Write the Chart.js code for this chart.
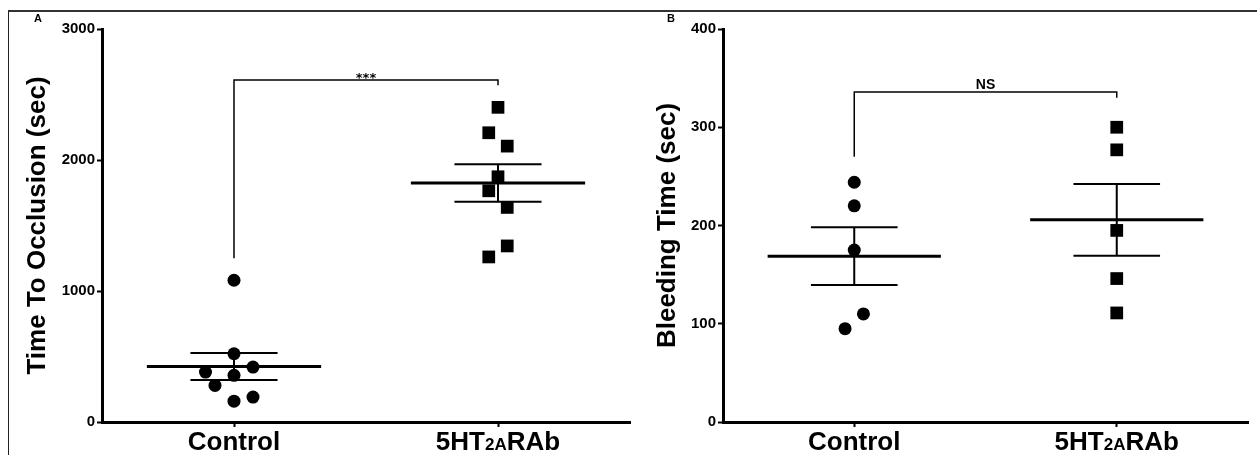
<!DOCTYPE html>
<html>
<head>
<meta charset="utf-8">
<script src="https://cdn.jsdelivr.net/npm/chart.js@4"></script>
<style>
  body { margin: 0; background: #fff; }
  #wrap { position: relative; width: 1257px; height: 455px; overflow: hidden; }
  .frame { position: absolute; left: 8px; top: 10px; width: 1270px; height: 470px;
           border-top: 2px solid #333; border-left: 1px solid #222; }
  .panel { position: absolute; top: 0; height: 455px; }
  .tag { position: absolute; font: bold 11px "Liberation Sans", Arial, sans-serif; color: #000; }
</style>
</head>
<body>
<div id="wrap">
  <div class="frame"></div>
  <div class="panel" style="left:0;width:640px"><canvas id="chartA"></canvas></div>
  <div class="panel" style="left:628px;width:629px"><canvas id="chartB"></canvas></div>
  <div class="tag" style="left:34px;top:12px">A</div>
  <div class="tag" style="left:667px;top:12px">B</div>
</div>
<script>
const categories = ["Control", "5HT2ARAb"];
const smallPart = "2A";

// === Panel A: time to occlusion (sec) ===
const occlusionControl = [1082, 521, 381, 356, 419, 279, 159, 190];
const occlusionControlX = [0, 0, -0.108, 0, 0.072, -0.072, 0, 0.072];
const occlusion5HT = [2402, 2208, 2106, 1872, 1765, 1638, 1344, 1260];
const occlusion5HTX = [0, -0.035, 0.035, 0, -0.035, 0.035, 0.035, -0.035];
const ticksA = [0, 1000, 2000, 3000];
const bracketA = [1250, 2610, 2570]; // left leg end, bar, right leg end

// === Panel B: bleeding time (sec) ===
const bleedControl = [244, 220, 175, 110, 95];
const bleedControlX = [0, 0, 0, 0.035, -0.035];
const bleed5HT = [300, 277, 195, 146, 111];
const bleed5HTX = [0, 0, 0, 0, 0];
const ticksB = [0, 100, 200, 300, 400];
const bracketB = [270, 336, 330];

function mean(a) {
  return a.reduce((s, v) => s + v, 0) / a.length;
}
function sem(a) {
  const m = mean(a);
  const sd = Math.sqrt(a.reduce((s, v) => s + (v - m) * (v - m), 0) / (a.length - 1));
  return sd / Math.sqrt(a.length);
}
function points(vals, xs, group) {
  return vals.map((v, i) => ({ x: group + xs[i], y: v }));
}

// mean line + SEM bars for each group
const errorBars = {
  id: "errorBars",
  afterDatasetsDraw(chart) {
    const ctx = chart.ctx;
    const xs = chart.scales.x, ys = chart.scales.y;
    ctx.save();
    ctx.strokeStyle = "#000";
    const seg = (x0, y0, x1, y1, w) => {
      ctx.lineWidth = w;
      ctx.beginPath();
      ctx.moveTo(xs.getPixelForValue(x0), ys.getPixelForValue(y0));
      ctx.lineTo(xs.getPixelForValue(x1), ys.getPixelForValue(y1));
      ctx.stroke();
    };
    chart.data.datasets.forEach((ds, i) => {
      const vals = ds.data.map(p => p.y);
      const g = i + 1, m = mean(vals), e = sem(vals);
      seg(g, m - e, g, m + e, 2);
      seg(g - 0.165, m + e, g + 0.165, m + e, 2);
      seg(g - 0.165, m - e, g + 0.165, m - e, 2);
      seg(g - 0.33, m, g + 0.33, m, 3);
    });
    ctx.restore();
  }
};

// significance bracket
const bracket = {
  id: "bracket",
  afterDraw(chart, args, opts) {
    const ctx = chart.ctx;
    const xs = chart.scales.x, ys = chart.scales.y;
    const [leftEnd, top, rightEnd] = opts.values;
    const x1 = xs.getPixelForValue(1), x2 = xs.getPixelForValue(2);
    const yt = ys.getPixelForValue(top);
    ctx.save();
    ctx.strokeStyle = "#000";
    ctx.lineWidth = 1.5;
    ctx.beginPath();
    ctx.moveTo(x1, ys.getPixelForValue(leftEnd));
    ctx.lineTo(x1, yt);
    ctx.lineTo(x2, yt);
    ctx.lineTo(x2, ys.getPixelForValue(rightEnd));
    ctx.stroke();
    ctx.fillStyle = "#000";
    ctx.font = opts.font;
    ctx.textAlign = "center";
    ctx.textBaseline = "alphabetic";
    ctx.fillText(opts.label, (x1 + x2) / 2, yt + opts.shift);
    ctx.restore();
  }
};

// group names under the x axis, with the small "2A"
const groupLabels = {
  id: "groupLabels",
  afterDraw(chart) {
    const ctx = chart.ctx;
    const xs = chart.scales.x;
    const big = 'bold 26px "Liberation Sans", Arial, sans-serif';
    const small = 'bold 17px "Liberation Sans", Arial, sans-serif';
    const base = xs.top + 28;
    ctx.save();
    ctx.fillStyle = "#000";
    ctx.textAlign = "left";
    ctx.textBaseline = "alphabetic";
    categories.forEach((label, i) => {
      const k = label.indexOf(smallPart);
      const parts = k < 0 ? [[label, big]] :
        [[label.slice(0, k), big], [smallPart, small], [label.slice(k + smallPart.length), big]];
      let total = 0;
      parts.forEach(p => { ctx.font = p[1]; total += ctx.measureText(p[0]).width; });
      let x = xs.getPixelForValue(i + 1) - total / 2;
      parts.forEach(p => {
        ctx.font = p[1];
        ctx.fillText(p[0], x, base);
        x += ctx.measureText(p[0]).width;
      });
    });
    ctx.restore();
  }
};

function yAxis(tickList, title, titlePad, axisWidth) {
  return {
    type: "linear",
    min: tickList[0],
    max: tickList[tickList.length - 1],
    afterBuildTicks: (s) => { s.ticks = tickList.map(v => ({ value: v })); },
    afterFit: (s) => { s.width = axisWidth; },
    border: { display: true, color: "#000", width: 3 },
    grid: { drawOnChartArea: false, drawTicks: true, tickLength: 5, tickWidth: 2, color: "#000" },
    ticks: {
      color: "#000",
      padding: 2,
      font: { family: "Liberation Sans", weight: "bold", size: 15 },
      callback: (v) => String(v),
    },
    title: {
      display: true,
      text: title,
      color: "#000",
      font: { family: "Liberation Sans", weight: "bold", size: 26 },
      padding: { top: titlePad, bottom: 0 },
    },
  };
}

function xAxis() {
  return {
    type: "linear",
    min: 0.5,
    max: 2.5,
    afterBuildTicks: (s) => { s.ticks = categories.map((c, i) => ({ value: i + 1 })); },
    afterFit: (s) => { s.height = 33; },
    border: { display: true, color: "#000", width: 3 },
    grid: { drawOnChartArea: false, drawTicks: true, tickLength: 5, tickWidth: 2, color: "#000" },
    ticks: { display: false },
  };
}

function makeChart(id, ctrl, ctrlX, treat, treatX, tickList, title, titlePad, axisWidth, padRight, br) {
  return new Chart(document.getElementById(id), {
    type: "scatter",
    data: {
      datasets: [
        {
          label: categories[0],
          data: points(ctrl, ctrlX, 1),
          pointStyle: "circle",
          pointRadius: 6.5,
          backgroundColor: "#000",
          borderColor: "#000",
          borderWidth: 0,
        },
        {
          label: categories[1],
          data: points(treat, treatX, 2),
          pointStyle: "rect",
          pointRadius: 9,
          backgroundColor: "#000",
          borderColor: "#000",
          borderWidth: 0,
        },
      ],
    },
    options: {
      responsive: true,
      maintainAspectRatio: false,
      animation: false,
      events: [],
      layout: { padding: { left: 0, top: 29, right: padRight, bottom: 0 } },
      scales: {
        x: xAxis(),
        y: yAxis(tickList, title, titlePad, axisWidth),
      },
      plugins: {
        legend: { display: false },
        tooltip: { enabled: false },
        bracket: br,
      },
    },
    plugins: [errorBars, bracket, groupLabels],
  });
}

document.addEventListener("DOMContentLoaded", function () {
  makeChart("chartA", occlusionControl, occlusionControlX, occlusion5HT, occlusion5HTX,
    ticksA, "Time To Occlusion (sec)", 22, 102, 10,
    { values: bracketA, label: "***", font: 'bold 13px "DejaVu Sans", sans-serif', shift: 2 });
  makeChart("chartB", bleedControl, bleedControlX, bleed5HT, bleed5HTX,
    ticksB, "Bleeding Time (sec)", 24, 95, 9,
    { values: bracketB, label: "NS", font: 'bold 14px "Liberation Sans", sans-serif', shift: -3 });
});
</script>
</body>
</html>
